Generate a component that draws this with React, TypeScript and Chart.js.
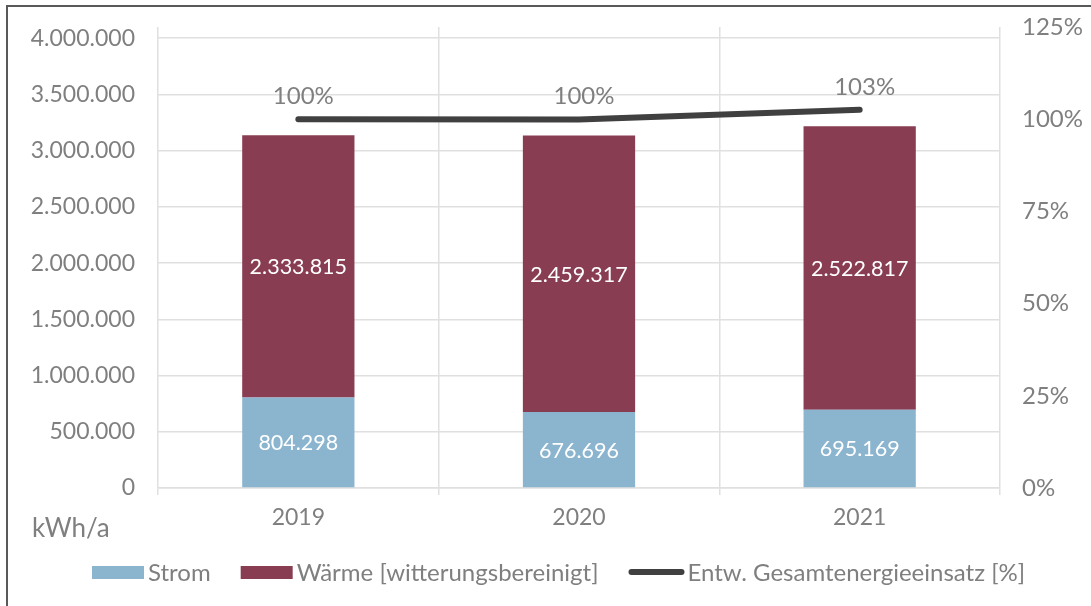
import React, { useEffect, useRef } from "react";
import { Chart, registerables } from "chart.js";

Chart.register(...registerables);

const years = ["2019", "2020", "2021"];
const strom = [804298, 676696, 695169];
const waerme = [2333815, 2459317, 2522817];
const entwicklung = [1.0, 0.9993, 1.0255];
const leftTicks = [0, 500000, 1000000, 1500000, 2000000, 2500000, 3000000, 3500000, 4000000];
const rightTicks = [0, 0.25, 0.5, 0.75, 1.0, 1.25];
const legendLabels = ["Strom", "Wärme [witterungsbereinigt]", "Entw. Gesamtenergieeinsatz [%]"];
const unitLabel = "kWh/a";

const COL_STROM = "#8bb4cf";
const COL_WAERME = "#893d52";
const COL_LINE = "#404040";
const COL_TEXT = "#7f7f7f";
const COL_GRID = "#e0e0e0";
const FONT = "Lato, 'Open Sans', sans-serif";

const fmtDE = (v: number) => Math.round(v).toString().replace(/\B(?=(\d{3})+(?!\d))/g, ".");
const fmtPct = (v: number) => Math.round(v * 100) + "%";

const decorPlugin = {
  id: "decor",
  afterDatasetsDraw(chart: any) {
    const ctx = chart.ctx;
    ctx.save();
    [0, 1].forEach((di) => {
      const meta = chart.getDatasetMeta(di);
      const data = chart.data.datasets[di].data as number[];
      meta.data.forEach((el: any, i: number) => {
        const cy = (el.y + el.base) / 2;
        ctx.fillStyle = "#ffffff";
        ctx.font = `21.5px ${FONT}`;
        ctx.textAlign = "center";
        ctx.textBaseline = "middle";
        ctx.fillText(fmtDE(data[i]), el.x, cy + 1);
      });
    });
    const lm = chart.getDatasetMeta(2);
    const ld = chart.data.datasets[2].data as number[];
    lm.data.forEach((pt: any, i: number) => {
      ctx.fillStyle = COL_TEXT;
      ctx.font = `24px ${FONT}`;
      ctx.textAlign = "center";
      ctx.textBaseline = "middle";
      ctx.fillText(fmtPct(ld[i]), pt.x + 5, pt.y - 23);
    });
    ctx.restore();
  },
  afterDraw(chart: any) {
    const ctx = chart.ctx;
    ctx.save();
    ctx.fillStyle = COL_TEXT;
    ctx.font = `26px ${FONT}`;
    ctx.textAlign = "left";
    ctx.textBaseline = "alphabetic";
    ctx.fillText(unitLabel, 32, 537);
    ctx.font = `24px ${FONT}`;
    let x = 92;
    const base = 581;
    const colors = [COL_STROM, COL_WAERME, COL_LINE];
    legendLabels.forEach((lab, i) => {
      if (i < 2) {
        ctx.fillStyle = colors[i];
        ctx.fillRect(x, 566, 52, 13);
        ctx.fillStyle = COL_TEXT;
        ctx.fillText(lab, x + 56, base);
        x = x + 56 + ctx.measureText(lab).width + 30;
      } else {
        ctx.strokeStyle = colors[i];
        ctx.lineWidth = 6;
        ctx.lineCap = "round";
        ctx.beginPath();
        ctx.moveTo(x + 3, 572);
        ctx.lineTo(x + 53, 572);
        ctx.stroke();
        ctx.fillStyle = COL_TEXT;
        ctx.fillText(lab, x + 59, base);
      }
    });
    ctx.strokeStyle = "#595959";
    ctx.lineWidth = 2;
    ctx.strokeRect(7, 6, 1200, 800);
    ctx.restore();
  },
};

export default function App() {
  const ref = useRef<HTMLCanvasElement | null>(null);
  useEffect(() => {
    if (!ref.current) return;
    Chart.defaults.font.family = FONT;
    const chart = new Chart(ref.current, {
      type: "bar",
      data: {
        labels: years,
        datasets: [
          { label: legendLabels[0], data: strom, backgroundColor: COL_STROM, barPercentage: 0.4, categoryPercentage: 1, order: 1, yAxisID: "y" },
          { label: legendLabels[1], data: waerme, backgroundColor: COL_WAERME, barPercentage: 0.4, categoryPercentage: 1, order: 1, yAxisID: "y" },
          {
            type: "line" as any,
            label: legendLabels[2],
            data: entwicklung,
            borderColor: COL_LINE,
            backgroundColor: COL_LINE,
            borderWidth: 6,
            borderCapStyle: "round",
            pointRadius: 0,
            tension: 0,
            order: 0,
            yAxisID: "y1",
          } as any,
        ],
      },
      options: {
        responsive: false,
        animation: false,
        layout: { padding: { top: 27, left: 0, right: 0, bottom: 0 } },
        plugins: { legend: { display: false }, tooltip: { enabled: false } },
        scales: {
          x: {
            stacked: true,
            grid: { offset: true, color: COL_GRID, lineWidth: 1.5, drawTicks: true, tickLength: 7 },
            border: { display: true, color: COL_GRID, width: 1.5 },
            ticks: { color: COL_TEXT, font: { size: 23, family: FONT }, padding: 9 },
            afterFit: (s: any) => { s.height = 118; s.paddingLeft = 0; s.paddingRight = 0; },
          },
          y: {
            stacked: true,
            position: "left",
            min: 0,
            max: 4100000,
            ticks: { color: COL_TEXT, font: { size: 23, family: FONT }, padding: 23, autoSkip: false, callback: (v: any) => fmtDE(Number(v)) },
            afterBuildTicks: (s: any) => { s.ticks = leftTicks.map((v) => ({ value: v })); },
            grid: { color: COL_GRID, lineWidth: 1.5, drawTicks: false },
            border: { display: false },
            afterFit: (s: any) => { s.width = 158; s.paddingTop = 0; s.paddingBottom = 0; },
          },
          y1: {
            position: "right",
            min: 0,
            max: 1.25,
            ticks: { color: COL_TEXT, font: { size: 24, family: FONT }, padding: 22, autoSkip: false, callback: (v: any) => fmtPct(Number(v)) },
            afterBuildTicks: (s: any) => { s.ticks = rightTicks.map((v) => ({ value: v })); },
            grid: { drawOnChartArea: false, drawTicks: false },
            border: { display: false },
            afterFit: (s: any) => { s.width = 91; s.paddingTop = 0; s.paddingBottom = 0; },
          },
        },
      },
      plugins: [decorPlugin],
    });
    return () => chart.destroy();
  }, []);
  return (
    <div style={{ position: "absolute", left: 0, top: 0, width: 1091, height: 606, background: "#fff" }}>
      <canvas ref={ref} width={1091} height={606} style={{ display: "block" }} />
    </div>
  );
}
